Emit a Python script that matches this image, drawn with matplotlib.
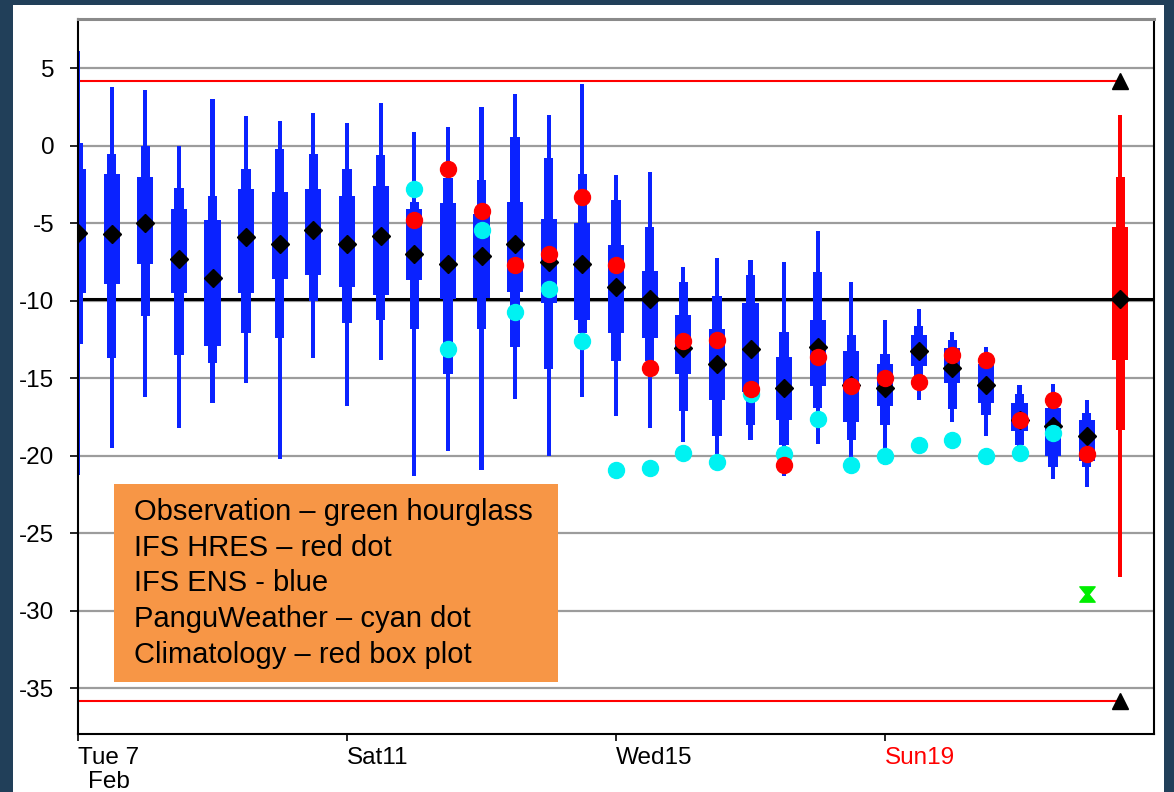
import matplotlib
matplotlib.use("Agg")
import matplotlib.pyplot as plt
from matplotlib.patches import Rectangle
from matplotlib.path import Path

plt.rcParams['font.family'] = ['Liberation Sans', 'DejaVu Sans']
plt.rcParams['axes.unicode_minus'] = False

# ---- data -------------------------------------------------------------
lead_days = [7.0, 7.5, 8.0, 8.5, 9.0, 9.5, 10.0, 10.5, 11.0, 11.5, 12.0,
             12.5, 13.0, 13.5, 14.0, 14.5, 15.0, 15.5, 16.0, 16.5, 17.0,
             17.5, 18.0, 18.5, 19.0, 19.5, 20.0, 20.5, 21.0, 21.5, 22.0]

ens_max = [6.1, 3.8, 3.6, 0.0, 3.0, 1.9, 1.6, 2.1, 1.5, 2.8, 0.9,
           1.2, 2.5, 3.35, 2.0, 4.0, -1.9, -1.7, -7.8, -7.25, -7.35,
           -7.5, -5.5, -8.8, -11.2, -10.5, -12.0, -13.0, -15.4, -15.35, -16.4]
ens_p90 = [0.2, -0.5, 0.0, -2.7, -3.2, -1.5, -0.2, -0.5, -1.5, -0.6, -3.6,
           -2.1, -2.2, 0.55, -0.8, -1.8, -3.5, -5.2, -8.8, -9.7, -8.3,
           -12.0, -8.15, -12.2, -13.4, -11.6, -12.5, -13.4, -16.0, -16.0, -17.2]
ens_p75 = [-1.5, -1.8, -2.0, -4.1, -4.8, -2.8, -3.0, -2.8, -3.2, -2.6, -4.1,
           -3.7, -4.4, -3.6, -4.7, -5.0, -6.4, -8.1, -10.9, -11.8, -10.15,
           -13.6, -11.2, -13.2, -14.1, -12.2, -13.05, -14.1, -16.6, -16.9, -17.7]
ens_median = [-5.6, -5.7, -5.0, -7.3, -8.5, -5.9, -6.3, -5.4, -6.3, -5.8, -7.0,
              -7.6, -7.1, -6.3, -7.5, -7.6, -9.1, -9.9, -13.05, -14.1, -13.1,
              -15.6, -12.95, -15.4, -15.6, -13.2, -14.3, -15.4, -17.7, -18.1, -18.7]
ens_p25 = [-9.5, -8.9, -7.6, -9.5, -12.9, -9.5, -8.6, -8.3, -9.1, -9.6, -8.65,
           -9.9, -9.8, -9.45, -10.15, -11.2, -12.1, -12.4, -14.7, -16.4, -15.85,
           -17.7, -15.5, -17.8, -16.8, -14.2, -15.3, -16.6, -18.4, -20.0, -20.3]
ens_p10 = [-12.8, -13.7, -11.0, -13.5, -14.0, -12.1, -12.4, -10.0, -11.4, -11.2, -11.8,
           -14.7, -11.8, -13.0, -14.4, -12.1, -13.9, -13.9, -17.1, -18.7, -18.0,
           -19.3, -16.9, -19.0, -18.0, -14.9, -17.0, -17.35, -19.3, -20.7, -20.7]
ens_min = [-21.2, -19.5, -16.2, -18.2, -16.6, -15.3, -20.2, -13.7, -16.8, -13.8, -21.3,
           -19.7, -20.9, -16.3, -20.0, -16.2, -17.4, -18.2, -19.1, -19.9, -19.0,
           -21.3, -19.2, -20.1, -20.6, -16.4, -17.8, -18.7, -20.0, -21.5, -22.0]

hres = [None, None, None, None, None, None, None, None, None, None, -4.8,
        -1.5, -4.2, -7.7, -7.0, -3.3, -7.7, -14.3, -12.6, -12.5, -15.7,
        -20.6, -13.6, -15.5, -14.95, -15.2, -13.5, -13.8, -17.7, -16.4, -19.9]
pangu = [None, None, None, None, None, None, None, None, None, None, -2.8,
         -13.1, -5.4, -10.7, -9.25, -12.6, -20.9, -20.8, -19.8, -20.4, -16.0,
         -19.9, -17.6, -20.6, -20.0, -19.3, -19.0, -20.0, -19.8, -18.5, None]

obs_day, obs_value = 22.0, -28.9

clim_day = 22.5
clim_stats = [2.0, -2.0, -5.2, -9.9, -13.8, -18.3, -27.8]  # max, p90, p75, median, p25, p10, min
clim_extremes = [4.2, -35.8]

tick_days = [7, 11, 15, 19]
tick_labels = ['Tue 7\nFeb', 'Sat11', 'Wed15', 'Sun19']
y_ticks = [5, 0, -5, -10, -15, -20, -25, -30, -35]

legend_lines = ['Observation \u2013 green hourglass',
                'IFS HRES \u2013 red dot',
                'IFS ENS - blue',
                'PanguWeather \u2013 cyan dot',
                'Climatology \u2013 red box plot']

# ---- figure -----------------------------------------------------------
W, H = 1174, 792
fig = plt.figure(figsize=(W / 100, H / 100), dpi=100)
fig.patch.set_facecolor('#213f59')

# white panel behind the chart
panel = fig.add_axes([13 / W, 0, (1164 - 13) / W, (H - 5) / H], zorder=-5)
panel.set_facecolor('white')
panel.set_xticks([])
panel.set_yticks([])
for s in panel.spines.values():
    s.set_visible(False)

ax_l, ax_r, ax_t, ax_b = 78, 1154, 19, 734
ax = fig.add_axes([ax_l / W, (H - ax_b) / H, (ax_r - ax_l) / W, (ax_b - ax_t) / H])
ax.set_facecolor('white')
ax.set_xlim(7.0, 23.0)
ax.set_ylim(-37.94, 8.19)

BLUE = '#0a22ff'
RED = '#ff0000'
CYAN = '#00f2f2'

# horizontal reference lines
for yv in y_ticks:
    ax.axhline(yv, color='#9c9c9c', lw=1.6, zorder=1)
ax.axhline(clim_stats[3], color='black', lw=2.2, zorder=1.5)
for yv in clim_extremes:
    ax.plot([7.0, clim_day], [yv, yv], color=RED, lw=1.5, zorder=1.6)


def draw_box(x, stats, color):
    vmax, p90, p75, med, p25, p10, vmin = stats
    ax.bar(x, vmax - vmin, bottom=vmin, width=0.06, color=color, zorder=2)
    ax.bar(x, p90 - p10, bottom=p10, width=0.14, color=color, zorder=2)
    ax.bar(x, p75 - p25, bottom=p25, width=0.24, color=color, zorder=2)
    ax.plot(x, med, marker='D', ms=9, color='black', ls='none', zorder=3)


for i, d in enumerate(lead_days):
    draw_box(d, [ens_max[i], ens_p90[i], ens_p75[i], ens_median[i],
                 ens_p25[i], ens_p10[i], ens_min[i]], BLUE)

pd = [d for d, v in zip(lead_days, pangu) if v is not None]
pv = [v for v in pangu if v is not None]
ax.plot(pd, pv, 'o', ms=11.5, color=CYAN, ls='none', zorder=4)
hd = [d for d, v in zip(lead_days, hres) if v is not None]
hv = [v for v in hres if v is not None]
ax.plot(hd, hv, 'o', ms=11.5, color=RED, ls='none', zorder=5)

draw_box(clim_day, clim_stats, RED)
ax.plot([clim_day] * 2, clim_extremes, '^', ms=11, color='black', ls='none',
        zorder=5, clip_on=False)

hourglass = Path([(-1, 1), (1, 1), (0.2, 0), (1, -1), (-1, -1), (-0.2, 0), (-1, 1)],
                 [Path.MOVETO] + [Path.LINETO] * 5 + [Path.CLOSEPOLY])
ax.plot(obs_day, obs_value, marker=hourglass, ms=11, color='#00ee00',
        ls='none', zorder=5)

# axes decoration
ax.set_yticks(y_ticks)
ax.set_yticklabels([str(v) for v in y_ticks])
ax.set_xticks(tick_days)
ax.set_xticklabels(tick_labels, ha='left', multialignment='center')
ax.get_xticklabels()[3].set_color(RED)
ax.tick_params(axis='y', length=6, width=1.2, pad=11, labelsize=17.5)
ax.tick_params(axis='x', length=5, width=1.2, pad=4, labelsize=17.5)
for lab in ax.get_xticklabels():
    lab.set_horizontalalignment('left')
    lab.set_linespacing(1.15)

for side in ['left', 'bottom', 'right']:
    ax.spines[side].set_color('black')
    ax.spines[side].set_linewidth(1.5)
ax.spines['top'].set_color('#8a8a8a')
ax.spines['top'].set_linewidth(2.2)

# annotation box listing the data sources
box_x0, box_x1, box_y0, box_y1 = 114, 558, 484, 682
ax.add_patch(Rectangle(((box_x0 - ax_l) / (ax_r - ax_l), (ax_b - box_y1) / (ax_b - ax_t)),
                       (box_x1 - box_x0) / (ax_r - ax_l), (box_y1 - box_y0) / (ax_b - ax_t),
                       transform=ax.transAxes, facecolor='#f79646', edgecolor='none',
                       zorder=6))
line_y = [512, 548, 583, 619, 655]
for txt, yp in zip(legend_lines, line_y):
    ax.text((134 - ax_l) / (ax_r - ax_l), (ax_b - yp) / (ax_b - ax_t), txt,
            transform=ax.transAxes, ha='left', va='center', fontsize=21,
            color='black', zorder=7)

fig.savefig('out.png', dpi=100, facecolor=fig.get_facecolor())
